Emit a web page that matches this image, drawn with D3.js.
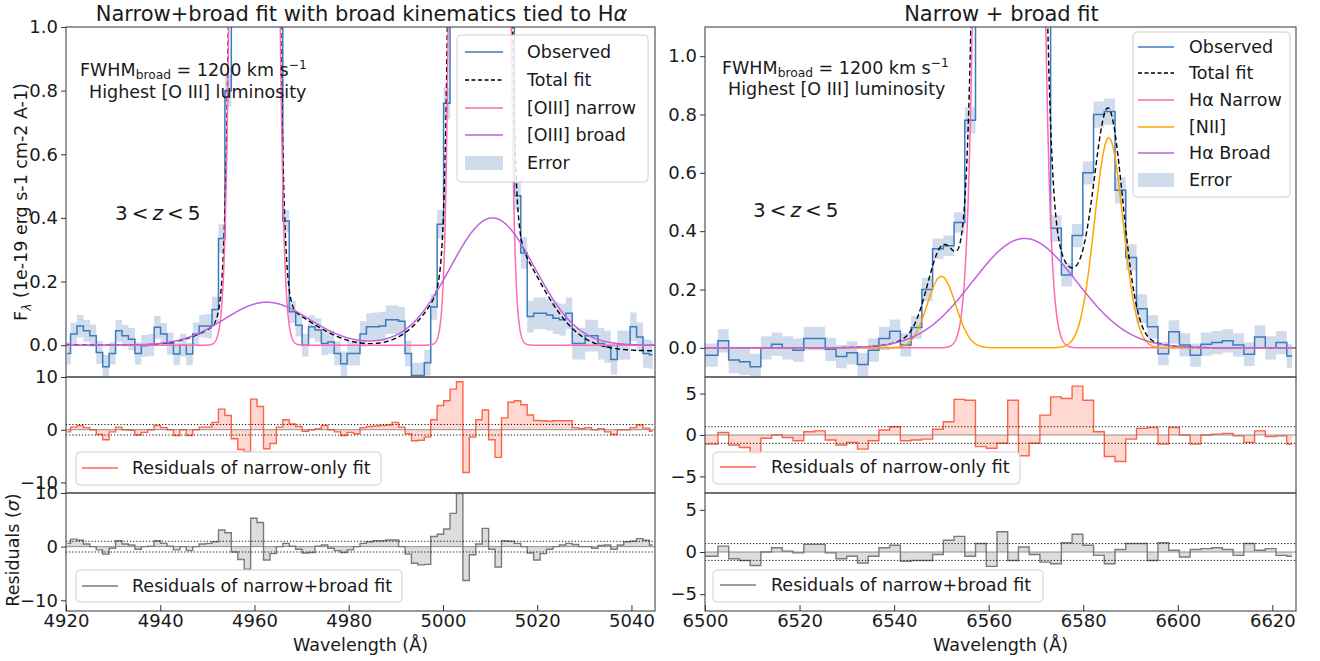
<!DOCTYPE html>
<html><head><meta charset="utf-8">
<script src="https://cdn.jsdelivr.net/npm/d3@7"></script>
<style>
body{margin:0;background:#fff}
svg{display:block}
text{font-family:"DejaVu Sans",sans-serif;fill:#1a1a1a;white-space:pre}
</style>
</head><body>
<svg id="c" width="1320" height="661"></svg>
<script>
// ---------------- DATA ----------------
// Left: [OIII] region, bin centres (Angstrom)
const leftWave = [4920.28,4921.65,4923.01,4924.38,4925.74,4927.11,4928.47,4929.84,4931.20,4932.57,
4933.93,4935.30,4936.66,4938.03,4939.39,4940.76,4942.12,4943.49,4944.85,4946.22,
4947.58,4948.95,4950.31,4951.68,4953.04,4954.41,4955.77,4957.14,4958.50,4959.87,
4961.23,4962.60,4963.96,4965.33,4966.69,4968.06,4969.42,4970.79,4972.15,4973.52,
4974.88,4976.25,4977.61,4978.98,4980.34,4981.71,4983.07,4984.44,4985.80,4987.17,
4988.53,4989.90,4991.26,4992.63,4993.99,4995.36,4996.72,4998.09,4999.45,5000.82,
5002.18,5003.55,5004.91,5006.28,5007.64,5009.01,5010.37,5011.74,5013.10,5014.47,
5015.83,5017.20,5018.56,5019.93,5021.29,5022.66,5024.02,5025.39,5026.75,5028.12,
5029.48,5030.85,5032.21,5033.58,5034.94,5036.31,5037.67,5039.04,5040.40,5041.77,
5043.13,5044.50];
const leftFlux = [-0.026,0.035,0.06,0.045,0.03,-0.023,-0.068,-0.026,0.045,0.03,
0.019,-0.026,-0.002,0.0,0.056,0.035,0.005,-0.028,0.0,-0.028,
0.035,0.06,0.06,0.112,0.335,0.80,3.5,10,21,28,
24,14,5.5,1.6,0.39,0.105,0.063,0.0,0.058,0.048,
0.005,0.01,-0.026,-0.058,-0.026,-0.026,0.035,0.058,0.058,0.06,
0.08,0.08,0.075,-0.026,-0.095,-0.095,-0.055,0.12,0.38,0.76,
3,15,45,95,125,110,65,25,7,1.6,
0.47,0.29,0.09,0.10,0.10,0.095,0.085,0.08,0.10,0.005,
0.005,0.03,0.03,0.005,-0.005,-0.045,0.0,0.0,0.058,0.026,
-0.026,-0.03];
const leftErr = [0.035,0.036,0.035,0.034,0.035,0.036,0.037,0.035,0.035,0.034,
0.035,0.035,0.034,0.035,0.036,0.035,0.035,0.035,0.036,0.035,
0.036,0.036,0.038,0.04,0.045,0.05,0.1,0.2,0.3,0.35,
0.3,0.2,0.1,0.06,0.035,0.035,0.036,0.036,0.036,0.037,
0.037,0.037,0.038,0.038,0.038,0.038,0.04,0.042,0.045,0.045,
0.045,0.045,0.045,0.04,0.04,0.04,0.04,0.04,0.045,0.05,
0.1,0.2,0.3,0.4,0.45,0.4,0.3,0.2,0.1,0.06,
0.045,0.05,0.05,0.05,0.05,0.05,0.05,0.05,0.05,0.05,
0.05,0.05,0.05,0.05,0.05,0.048,0.046,0.045,0.045,0.045,
0.045,0.045];
const leftResNarrow = [-0.4,0.5,0.8,0.4,0,-0.9,-1.9,-0.4,0.5,0,
-0.1,-1,-0.5,0,0.8,0.4,0,-1.1,0,-1.1,
0,0.5,0.5,1.4,3.9,2.7,-1.7,-3.75,-4.2,5.8,
4.4,-3.6,-2.6,0.5,1.9,1.1,0.6,-0.3,0,0.2,
0.8,0,-0.4,-1.1,-0.5,-0.75,0.4,0.6,0.7,0.8,
0.9,1.4,0.5,-0.75,-2.1,-2.0,-1.4,1.9,4.6,5.5,
7.7,9.1,-8.1,-1.4,1.9,3.75,-1.9,-5.25,2.25,5.2,
5.5,4.75,2.8,1.75,1.7,1.6,1.7,1.7,1.7,0.4,
0.2,0.4,0,0.2,-0.4,-0.9,0,0,0.4,0.9,
0.3,-0.3];
const leftResBroad = [0.6,1.4,1.2,0.5,0,-0.6,-1.4,-0.3,1.1,0.5,
0.3,-0.5,0,0.1,1.1,0.6,0.1,-0.6,0,-0.75,
0,0.5,0.6,0.9,3.1,2.6,-1.0,-2.4,-4.2,5.3,
4.5,-2.5,-1.3,0,0.6,0.1,-0.5,-1.2,-1.1,0.1,
0.3,-0.3,-0.75,-1.1,-0.6,0,0.6,0.9,1.1,1.1,
1.25,1.25,0,-1.4,-3.1,-3.4,-3.3,1.9,2.3,3.3,
6.2,9.9,-6.3,-1.5,0.5,3.4,-0.5,-3.8,1.1,1.0,
0.6,0,-1.2,-2.5,-1.3,-0.5,0,0.3,0.6,0.4,
0,0,-0.3,0.2,0.3,-0.5,0.3,0.9,1.0,1.5,
1.2,0.3];
// Left model components (Gaussian centre, peak, sigma)
const leftNarrowCenter = [4960.0, 5007.8];
const leftNarrowPeak = [30, 130];
const leftNarrowSigma = [2.1, 2.15];
const leftBroadCenter = [4962.6, 5010.5];
const leftBroadPeak = [0.135, 0.40];
const leftBroadSigma = [9.0, 9.0];
const leftContinuum = [0.002, -0.018];   // total-fit baseline at 4920 and 5045

// Right: Halpha region
const rightWave = [6499.33,6501.60,6503.87,6506.14,6508.41,6510.68,6512.95,6515.22,6517.49,6519.76,
6522.03,6524.30,6526.57,6528.84,6531.11,6533.38,6535.65,6537.92,6540.19,6542.46,
6544.73,6547.00,6549.27,6551.54,6553.81,6556.08,6558.35,6560.62,6562.89,6565.16,
6567.43,6569.70,6571.97,6574.24,6576.51,6578.78,6581.05,6583.32,6585.59,6587.86,
6590.13,6592.40,6594.67,6596.94,6599.21,6601.48,6603.75,6606.02,6608.29,6610.56,
6612.83,6615.10,6617.37,6619.64,6621.91,6624.18];
const rightFlux = [-0.025,-0.025,0.024,-0.042,-0.048,-0.065,0.0,0.0125,0.0,-0.008,
0.032,0.032,-0.005,-0.03,-0.017,-0.057,-0.008,0.032,0.057,0.01,
0.07,0.2,0.34,0.35,0.43,0.78,4.6,15,27,30,
19,6.2,1.6,0.41,0.25,0.385,0.60,0.80,0.81,0.54,
0.31,0.134,0.072,-0.02,0.055,0.01,-0.025,0.0125,0.018,0.024,
0.01,-0.022,0.0375,0.0,0.018,-0.028];
const rightErr = [0.04,0.04,0.04,0.045,0.045,0.045,0.04,0.04,0.04,0.04,
0.04,0.04,0.04,0.04,0.04,0.04,0.04,0.04,0.04,0.04,
0.04,0.04,0.035,0.035,0.035,0.045,0.1,0.2,0.3,0.3,
0.2,0.1,0.06,0.045,0.04,0.04,0.04,0.045,0.045,0.045,
0.045,0.05,0.04,0.04,0.04,0.04,0.04,0.04,0.04,0.04,
0.04,0.04,0.04,0.04,0.04,0.04];
const rightResNarrow = [-1.1,-1.1,0.3,-1.2,-1.5,-2.2,-0.4,0,-0.3,-0.7,
0.4,0.5,-0.6,-1.2,-0.9,-1.7,-0.7,0.6,1.0,-0.7,
-0.6,-0.5,0.7,1.6,4.3,4.2,-1.4,-1.6,-1.0,4.2,
-2.5,-1.0,2.4,4.6,4.4,5.9,4.2,0.4,-2.6,-3.2,
-0.5,0.8,0.9,-1.1,0.9,0.0,-1.1,0.0,0.1,0.2,
-0.1,-0.9,0.5,-0.2,-0.1,-1.1];
const rightResBroad = [-0.5,-0.5,0.7,-0.8,-1.0,-1.6,0,0.5,0.1,-0.1,
0.9,0.9,-0.1,-0.8,-0.5,-1.3,-0.5,0.5,0.8,-1.1,
-1.0,-1.0,-0.3,1.4,1.85,-0.5,1.0,-1.7,2.4,-1.0,
0.6,-0.3,-1.2,-1.4,1.1,2.1,0.8,-0.4,-1.4,0.3,
1.0,1.0,-1.0,1.1,0.2,-0.6,0.3,0.4,0.5,0.3,
-0.4,1.0,0.2,0.4,-0.4,-0.5];
const rightHaNarrowCenter = [6564.3];
const rightHaNarrowPeak = [32];
const rightHaNarrowSigma = [3.0];
const rightNiiCenter = [6550.0, 6585.4];
const rightNiiPeak = [0.245, 0.72];
const rightNiiSigma = [3.0, 3.0];
const rightHaBroadCenter = [6567.6];
const rightHaBroadPeak = [0.375];
const rightHaBroadSigma = [11.0];

// Tick labels
const leftXTicks = [4920,4940,4960,4980,5000,5020,5040];
const rightXTicks = [6500,6520,6540,6560,6580,6600,6620];
const mainYTicks = [0.0,0.2,0.4,0.6,0.8,1.0];
const leftResTicks = [-10,0,10];
const rightResTicks = [-5,0,5];

// ---------------- DRAWING ----------------
const svg = d3.select('#c');
const defs = svg.append('defs');
const rows = {main:[27,377], r1:[377,493], r2:[493,611]};
const C = {obs:'#3b7bbd', err:'#b0c4de', narrow:'#ff69b4', broad:'#c061dd', nii:'#ffa500',
  red:'#ff6347', redFill:'rgba(255,99,71,0.25)', gray:'#7b7b7b', grayFill:'rgba(128,128,128,0.27)', spine:'#555'};

function gsum(w, cs, ps, ss){ let t=0; for(let i=0;i<cs.length;i++){ const z=(w-cs[i])/ss[i]; t+=ps[i]*Math.exp(-0.5*z*z);} return t; }

function rich(g, x, y, parts, size, opts={}) {
  const t = g.append('text').attr('x',x).attr('y',y).attr('font-size',size)
    .attr('text-anchor', opts.anchor||'start');
  if (opts.rotate) t.attr('transform', `rotate(${opts.rotate},${x},${y})`);
  let shift = 0;
  parts.forEach(p => {
    const target = p.sub ? size*0.2 : p.sup ? -size*0.4 : 0;
    const ts = t.append('tspan').text(p.t).attr('dy', target - shift);
    shift = target;
    if (p.sub || p.sup) ts.attr('font-size', size*0.7);
    if (p.it) ts.attr('font-style','italic');
    if (p.dx) ts.attr('dx', p.dx);
  });
  return t;
}

function legend(g, box, items, size) {
  g.append('rect').attr('x',box.x).attr('y',box.y).attr('width',box.w).attr('height',box.h)
    .attr('rx',4).attr('fill','#fff').attr('fill-opacity',0.85).attr('stroke','#d0d0d0').attr('stroke-width',1);
  items.forEach(it => {
    if (it.type === 'patch') {
      g.append('rect').attr('x',box.lx0).attr('y',it.y-7).attr('width',box.lx1-box.lx0).attr('height',14)
        .attr('fill',C.err).attr('fill-opacity',0.6);
    } else {
      g.append('line').attr('x1',box.lx0).attr('x2',box.lx1).attr('y1',it.y).attr('y2',it.y)
        .attr('stroke',it.color).attr('stroke-width',1.5).attr('stroke-dasharray', it.dash||null);
    }
    rich(g, box.tx, it.y + size*0.35, it.label, size);
  });
}

function drawPanel(p) {
  const x = d3.scaleLinear().domain(p.xDomain).range([p.x0, p.x1]);
  const yM = d3.scaleLinear().domain(p.yMain).range([rows.main[1], rows.main[0]]);
  const yR1 = d3.scaleLinear().domain(p.yRes).range([rows.r1[1], rows.r1[0]]);
  const yR2 = d3.scaleLinear().domain(p.yRes).range([rows.r2[1], rows.r2[0]]);
  const g = svg.append('g');
  const clip = (id, r) => defs.append('clipPath').attr('id', id).append('rect')
      .attr('x', p.x0).attr('y', r[0]).attr('width', p.x1 - p.x0).attr('height', r[1] - r[0]);
  clip(p.id+'m', rows.main); clip(p.id+'a', rows.r1); clip(p.id+'b', rows.r2);

  const bins = p.wave.map((w,i)=>({w, f:p.flux[i], e:p.err[i], r1:p.res1[i], r2:p.res2[i]}));

  // main panel
  const gm = g.append('g').attr('clip-path', `url(#${p.id}m)`);
  gm.append('path').datum(bins)
    .attr('d', d3.area().x(d=>x(d.w)).y0(d=>yM(d.f-d.e)).y1(d=>yM(d.f+d.e)).curve(d3.curveStep))
    .attr('fill', C.err).attr('fill-opacity', 0.6);
  gm.append('path').datum(bins)
    .attr('d', d3.line().x(d=>x(d.w)).y(d=>yM(d.f)).curve(d3.curveStep))
    .attr('fill','none').attr('stroke',C.obs).attr('stroke-width',1.5);
  const grid = d3.range(p.xDomain[0], p.xDomain[1] + 0.001, 0.05);
  p.models.forEach(m => {
    gm.append('path').datum(grid)
      .attr('d', d3.line().x(w=>x(w)).y(w=>Math.max(-2000, yM(m.fn(w)))))
      .attr('fill','none').attr('stroke',m.color).attr('stroke-width',m.width||1.5)
      .attr('stroke-dasharray', m.dash||null);
  });

  // residual panels
  [[yR1, 'r1', rows.r1, 'a', C.red, C.redFill], [yR2, 'r2', rows.r2, 'b', C.gray, C.grayFill]].forEach(([y, key, r, cid, col, fill]) => {
    const gr = g.append('g').attr('clip-path', `url(#${p.id}${cid})`);
    gr.append('path').datum(bins)
      .attr('d', d3.area().x(d=>x(d.w)).y0(y(0)).y1(d=>y(d[key])).curve(d3.curveStep))
      .attr('fill', fill);
    gr.append('path').datum(bins)
      .attr('d', d3.line().x(d=>x(d.w)).y(d=>y(d[key])).curve(d3.curveStep))
      .attr('fill','none').attr('stroke',col).attr('stroke-width',1.4);
    gr.append('line').attr('x1',p.x0).attr('x2',p.x1).attr('y1',y(0)).attr('y2',y(0))
      .attr('stroke','#777').attr('stroke-width',0.8);
    [-1,1].forEach(v => gr.append('line').attr('x1',p.x0).attr('x2',p.x1).attr('y1',y(v)).attr('y2',y(v))
      .attr('stroke','#111').attr('stroke-width',1).attr('stroke-dasharray','1.2,2'));
  });

  // spines
  [rows.main, rows.r1, rows.r2].forEach(r => g.append('rect').attr('x',p.x0).attr('y',r[0])
     .attr('width',p.x1-p.x0).attr('height',r[1]-r[0]).attr('fill','none')
     .attr('stroke',C.spine).attr('stroke-width',1.2));

  // axes
  const styleAxis = a => { a.select('.domain').remove(); a.selectAll('line').attr('stroke','#333');
    a.selectAll('text').attr('font-size',18).attr('fill','#1a1a1a').attr('font-family','"DejaVu Sans",sans-serif'); };
  styleAxis(g.append('g').attr('transform',`translate(${p.x0},0)`)
     .call(d3.axisLeft(yM).tickValues(mainYTicks).tickFormat(d3.format('.1f')).tickSize(5).tickPadding(3)));
  styleAxis(g.append('g').attr('transform',`translate(${p.x0},0)`)
     .call(d3.axisLeft(yR1).tickValues(p.resTicks).tickFormat(d3.format('d')).tickSize(5).tickPadding(3)));
  styleAxis(g.append('g').attr('transform',`translate(${p.x0},0)`)
     .call(d3.axisLeft(yR2).tickValues(p.resTicks).tickFormat(d3.format('d')).tickSize(5).tickPadding(3)));
  styleAxis(g.append('g').attr('transform',`translate(0,${rows.r2[1]})`)
     .call(d3.axisBottom(x).tickValues(p.xTicks).tickFormat(d3.format('d')).tickSizeInner(-6).tickSizeOuter(0).tickPadding(3)));

  // titles and labels
  const cx = (p.x0 + p.x1) / 2;
  rich(g, cx + 1, 21, p.title, 21, {anchor:'middle'});
  rich(g, cx, 651, [{t:'Wavelength (Å)'}], 17.5, {anchor:'middle'});
  rich(g, p.fwhmPos[0], p.fwhmPos[1], [{t:'FWHM'},{t:'broad',sub:true},{t:' = 1200 km s'},{t:'−1',sup:true}], 17.5);
  rich(g, p.lumPos[0], p.lumPos[1], [{t:'Highest [O III] luminosity'}], 17.5);
  rich(g, p.zPos[0], p.zPos[1], [{t:'3'},{t:'<',dx:4},{t:'z',it:true,dx:4},{t:'<',dx:4},{t:'5',dx:4}], 20);

  legend(g, p.legendBox, p.legendItems, 17.5);
  legend(g, p.res1Box, [{y:p.res1Box.ly, color:C.red, label:[{t:'Residuals of narrow-only fit'}]}], 17.5);
  legend(g, p.res2Box, [{y:p.res2Box.ly, color:C.gray, label:[{t:'Residuals of narrow+broad fit'}]}], 17.5);
}

drawPanel({
  id:'L', x0:66, x1:655, xDomain:[4920,5045], yMain:[-0.1,1.0], yRes:[-12,10],
  xTicks:leftXTicks, resTicks:leftResTicks,
  wave:leftWave, flux:leftFlux, err:leftErr, res1:leftResNarrow, res2:leftResBroad,
  models:[
    {color:'#000', dash:'5,3', width:1.4, fn:w => gsum(w,leftNarrowCenter,leftNarrowPeak,leftNarrowSigma)
        + gsum(w,leftBroadCenter,leftBroadPeak,leftBroadSigma)
        + leftContinuum[0] + (leftContinuum[1]-leftContinuum[0])*(w-4920)/125},
    {color:C.narrow, fn:w => gsum(w,leftNarrowCenter,leftNarrowPeak,leftNarrowSigma)},
    {color:C.broad, fn:w => gsum(w,leftBroadCenter,leftBroadPeak,leftBroadSigma)}
  ],
  title:[{t:'Narrow+broad fit with broad kinematics tied to H'},{t:'α',it:true}],
  fwhmPos:[80,75.5], lumPos:[89,98], zPos:[115,220],
  legendBox:{x:457,y:35,w:191,h:147,lx0:465,lx1:503,tx:527},
  legendItems:[
    {y:52, color:C.obs, label:[{t:'Observed'}]},
    {y:80, color:'#000', dash:'4,2.5', label:[{t:'Total fit'}]},
    {y:108, color:C.narrow, label:[{t:'[OIII] narrow'}]},
    {y:135, color:C.broad, label:[{t:'[OIII] broad'}]},
    {y:163, type:'patch', label:[{t:'Error'}]}
  ],
  res1Box:{x:76,y:452,w:305,h:33,lx0:82,lx1:118,tx:132,ly:468},
  res2Box:{x:76,y:570,w:326,h:32,lx0:82,lx1:118,tx:132,ly:586}
});

drawPanel({
  id:'R', x0:705, x1:1296, xDomain:[6500,6625], yMain:[-0.1,1.1], yRes:[-7,7],
  xTicks:rightXTicks, resTicks:rightResTicks,
  wave:rightWave, flux:rightFlux, err:rightErr, res1:rightResNarrow, res2:rightResBroad,
  models:[
    {color:'#000', dash:'5,3', width:1.4, fn:w => gsum(w,rightHaNarrowCenter,rightHaNarrowPeak,rightHaNarrowSigma)
        + gsum(w,rightNiiCenter,rightNiiPeak,rightNiiSigma) + gsum(w,rightHaBroadCenter,rightHaBroadPeak,rightHaBroadSigma)},
    {color:C.narrow, fn:w => gsum(w,rightHaNarrowCenter,rightHaNarrowPeak,rightHaNarrowSigma)},
    {color:C.nii, fn:w => gsum(w,rightNiiCenter,rightNiiPeak,rightNiiSigma)},
    {color:C.broad, fn:w => gsum(w,rightHaBroadCenter,rightHaBroadPeak,rightHaBroadSigma)}
  ],
  title:[{t:'Narrow + broad fit'}],
  fwhmPos:[722,73.5], lumPos:[728,95], zPos:[753,217],
  legendBox:{x:1133,y:32,w:157,h:165,lx0:1138,lx1:1174,tx:1189},
  legendItems:[
    {y:47, color:C.obs, label:[{t:'Observed'}]},
    {y:73, color:'#000', dash:'4,2.5', label:[{t:'Total fit'}]},
    {y:100, color:C.narrow, label:[{t:'Hα Narrow'}]},
    {y:127, color:C.nii, label:[{t:'[NII]'}]},
    {y:153, color:C.broad, label:[{t:'Hα Broad'}]},
    {y:180, type:'patch', label:[{t:'Error'}]}
  ],
  res1Box:{x:713,y:452,w:307,h:32,lx0:720,lx1:756,tx:771,ly:467},
  res2Box:{x:713,y:570,w:330,h:32,lx0:720,lx1:756,tx:771,ly:585}
});

// y-axis labels (left figure only)
rich(svg, 27, 202, [{t:'F'},{t:'λ',sub:true,it:true},{t:' (1e-19 erg s-1 cm-2 A-1)'}], 17.5, {anchor:'middle', rotate:-90});
rich(svg, 19, 550, [{t:'Residuals ('},{t:'σ',it:true},{t:')'}], 17.5, {anchor:'middle', rotate:-90});
</script>
</body></html>
